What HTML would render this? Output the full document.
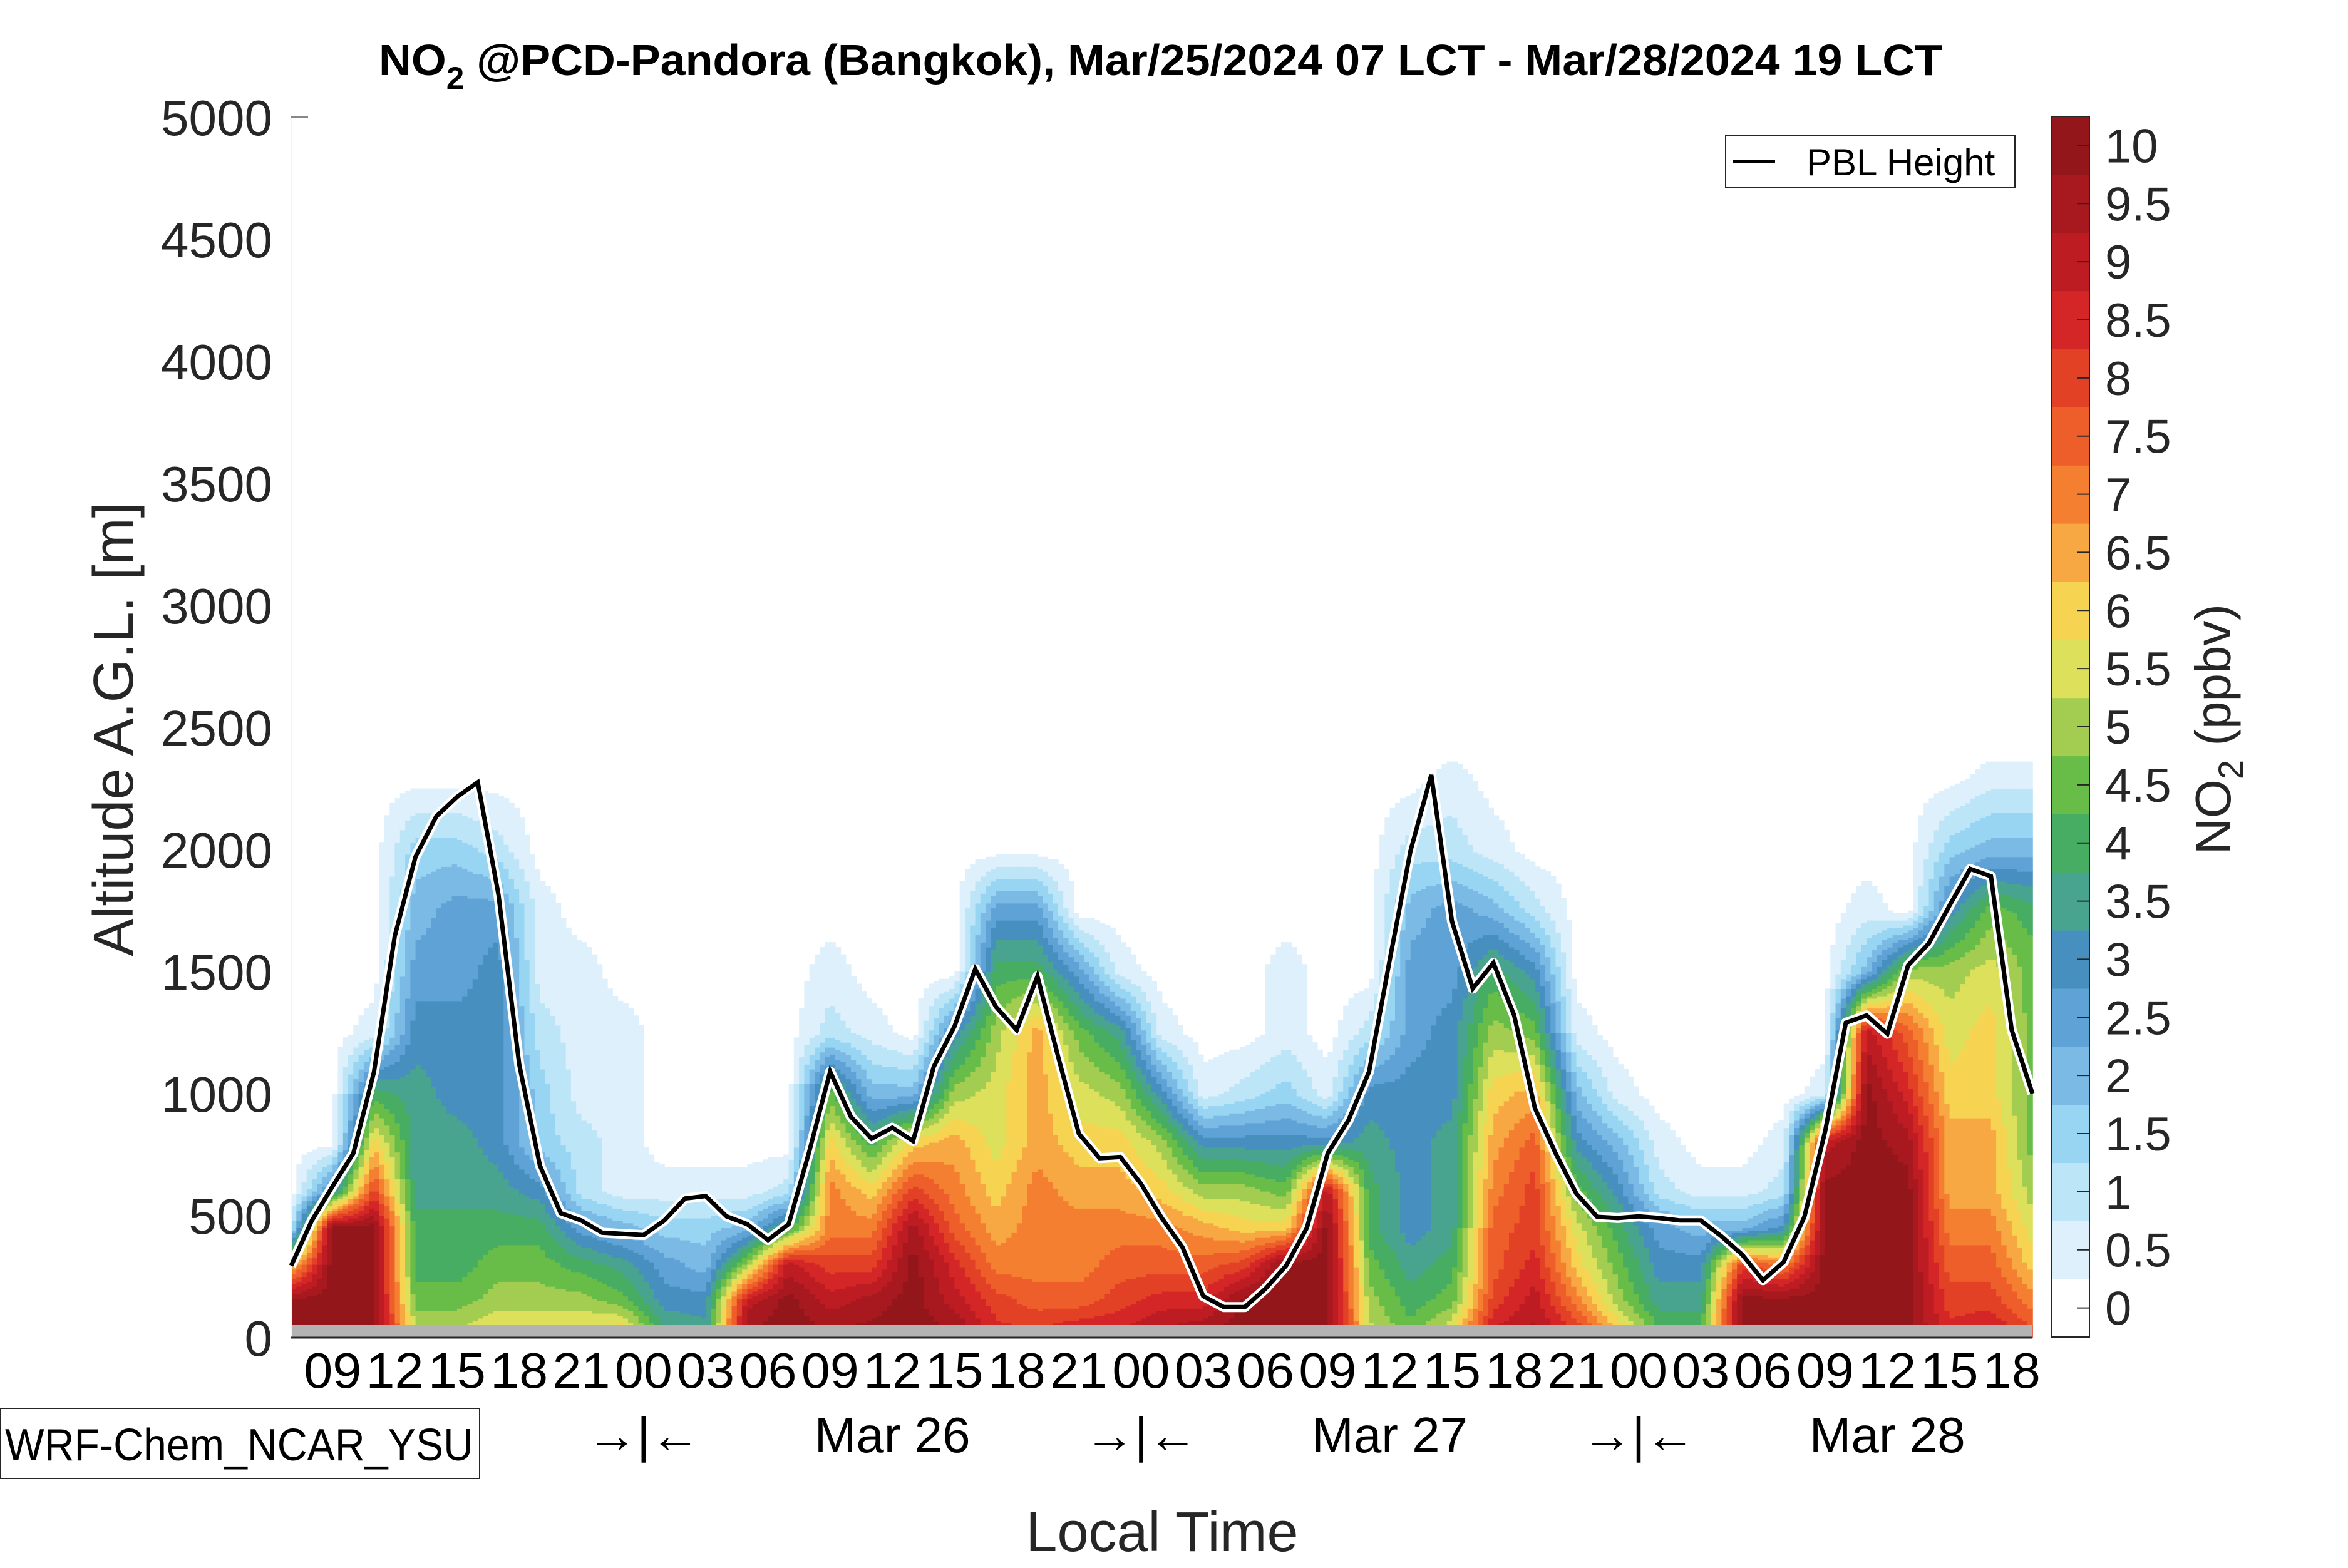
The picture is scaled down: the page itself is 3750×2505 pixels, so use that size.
<!DOCTYPE html>
<html><head><meta charset="utf-8"><style>
html,body{margin:0;padding:0;background:#fff;}
svg text{font-family:"Liberation Sans",sans-serif;}
</style></head><body>
<svg id="chart" xmlns="http://www.w3.org/2000/svg" width="3750" height="2500" viewBox="0 0 3750 2500">
<rect width="3750" height="2500" fill="#fff"/>
<text x="605" y="120" font-size="70" font-weight="bold" fill="#000" textLength="2497" lengthAdjust="spacingAndGlyphs">NO<tspan dy="22" font-size="50">2</tspan><tspan dy="-22"> @PCD-Pandora (Bangkok), Mar/25/2024 07 LCT - Mar/28/2024 19 LCT</tspan></text>
<g id="field"></g>
<rect x="465" y="2117" width="2781" height="20" fill="#b3b3b3"/>
<line x1="465" y1="186" x2="465" y2="2137" stroke="#f4f4f4" stroke-width="2"/>
<line x1="465" y1="2137" x2="3246" y2="2137" stroke="#262626" stroke-width="3"/>
<line x1="465" y1="187" x2="492" y2="187" stroke="#888" stroke-width="2"/>
<g id="yticks"></g>
<g id="xticks"></g>
<g id="pbl"></g>
<text transform="translate(212,1165) rotate(-90)" text-anchor="middle" font-size="90" fill="#262626">Altitude A.G.L. [m]</text>
<text x="1856" y="2478" text-anchor="middle" font-size="90" fill="#262626">Local Time</text>
<g>
<rect x="2756" y="216" width="462" height="84" fill="#fff" stroke="#262626" stroke-width="2"/>
<line x1="2768" y1="258" x2="2835" y2="258" stroke="#000" stroke-width="6"/>
<text x="2885" y="280" font-size="60" fill="#000">PBL Height</text>
</g>
<g>
<rect x="0" y="2250" width="766" height="112" fill="#fff" stroke="#262626" stroke-width="2"/>
<text x="8" y="2333" font-size="72" fill="#000" textLength="748" lengthAdjust="spacingAndGlyphs">WRF-Chem_NCAR_YSU</text>
</g>
<g id="cbar"></g>
<text transform="translate(3562,1165) rotate(-90)" text-anchor="middle" font-size="80" fill="#262626">NO<tspan dy="20" font-size="56">2</tspan><tspan dy="-20"> (ppbv)</tspan></text>
</svg>
<script>
const NS="http://www.w3.org/2000/svg";
// ---- data ----
const colors=["#ffffff","#ddf0fb","#bde5f8","#98d5f3","#7bbae5","#5ea2d6","#478fbf","#48a38f","#47ad62","#68bd48","#a3cd50","#dde05a","#f7d352","#f7a843","#f47f30","#ee5e2a","#e24126","#d52627","#bd1c23","#a8191f","#92161a"];
const cbarLabels=["0","0.5","1","1.5","2","2.5","3","3.5","4","4.5","5","5.5","6","6.5","7","7.5","8","8.5","9","9.5","10"];
const yTickValues=[0,500,1000,1500,2000,2500,3000,3500,4000,4500,5000];
const xTickLabels=["09","12","15","18","21","00","03","06","09","12","15","18","21","00","03","06","09","12","15","18","21","00","03","06","09","12","15","18"];
const dateLabels=["→|←","Mar 26","→|←","Mar 27","→|←","Mar 28"];
const dateHours=[17,29,41,53,65,77];
const levels=[0,150,300,450,600,800,1000,1250,1500,1750,2000,2300];
const hours=[0,2,4,6,8,10,12,14,16,18,20,22,24,26,28,30,32,34,36,38,40,42,44,46,48,50,52,54,56,58,60,62,64,66,68,70,72,74,76,78,80,82,84];
const no2=[
[10,10,6,1,0,0,0,0,0,0,0,0],
[10,10,10,10,3,0,0,0,0,0,0,0],
[10,10,10,10,8,6,4,0.5,0,0,0,0],
[5.5,4.5,4,4,3.5,3.5,3.5,3,2.5,2,1.5,0],
[5.5,4.5,4,4,3.5,3.5,3,3,2.5,2.5,1.5,0],
[6,5,4.5,4,3.5,3,3,3,3,2.5,1,0],
[6,5,4.5,4,3,1.5,1.5,1,0.5,0.5,0,0],
[6,5,4,2.5,1,1,0.5,0.5,0.5,0,0,0],
[6.5,4.5,3.5,2,0.5,0.5,0.5,0.5,0,0,0,0],
[4,3,2.5,1.5,0.5,0,0,0,0,0,0,0],
[3.5,3,2,1.5,0.5,0,0,0,0,0,0,0],
[10,9,5,2,0.5,0,0,0,0,0,0,0],
[10,10,9,4,1,0,0,0,0,0,0,0],
[10,9,8,7,7,6,4.5,1,0.5,0,0,0],
[10,9.5,8,7,6,4,2,0.5,0,0,0,0],
[10,10,10,9.5,8,6,2,0,0,0,0,0],
[10,9,8.5,7.5,7,6.5,5,3,0,0,0,0],
[8.5,8,7,6.5,6,5.5,5.5,5,4,2.5,0,0],
[8.5,7.5,7,7,7,6.5,6.5,6.5,4,2.5,0,0],
[9,7.5,7,7,6.5,6,5.5,4.5,2.5,0,0,0],
[9,8,7.5,7,6.5,6,5,3.5,0.5,0,0,0],
[9.5,8.5,7.5,7,6,5,3,0.5,0,0,0,0],
[10,8.5,7.5,6.5,5,3,0.5,0,0,0,0,0],
[10,10,8,6,5,3,1,0,0,0,0,0],
[10,10,10,6,4.5,3,1.5,0.5,0.5,0,0,0],
[10,10,10,10,9,3,0.5,0,0,0,0,0],
[5.5,5,4.5,4,4,3.5,3,1,0,0,0,0],
[4.5,4,3.5,3,3,3,3,2.5,2.5,2,1,0],
[6,4.5,4,3.5,3.5,3.5,3,3,2.5,2.5,1,0.5],
[9,8,7.5,7.5,7,6.5,6,5,4,2,0.5,0],
[9.5,9,8.5,8,8,7.5,6.5,4.5,3,1,0,0],
[8.5,7,6,5.5,4.5,3,2,0.5,0,0,0,0],
[6.5,5,4.5,4,3,2,0.5,0,0,0,0,0],
[4.5,3.5,3,2.5,1,0.5,0,0,0,0,0,0],
[4.5,3.5,3,2,0.5,0,0,0,0,0,0,0],
[10,10,8,2,0.5,0,0,0,0,0,0,0],
[10,10,7,3,1,0.5,0,0,0,0,0,0],
[10,10,10,10,10,9,0.5,0,0,0,0,0],
[10,10,10,10,10,10,10,9,2,0.5,0,0],
[10,10,10,10,10,9.5,8.5,7.5,5,0,0,0],
[8.5,8,7.5,7,6.5,6.5,6,5.5,5,3,1.5,0],
[9,8,7.5,7,6.5,6.5,6,6,5.5,4.5,2,0.5],
[8,7,6,5.5,5,4.5,4.5,4.5,4.5,4,2,0.5]
];
const pblHeight=[295,480,620,755,1090,1645,1970,2135,2215,2275,1815,1120,705,510,480,430,425,420,480,570,580,497,465,400,465,765,1090,905,815,860,805,1110,1275,1510,1355,1260,1480,1150,835,735,740,630,490,370,170,125,125,200,295,450,755,890,1090,1550,1995,2305,1705,1430,1535,1320,940,755,590,495,490,497,490,480,480,415,340,235,310,495,845,1290,1320,1245,1525,1615,1770,1920,1890,1260,1000];
// ---- axes ----
const X0=465,X1=3246,H=84,Y0=2137,YPM=0.39;
const xs=h=>X0+h*(X1-X0)/H;
const ys=z=>Y0-z*YPM;
function colProfile(j,z){
  const p=no2[j];
  if(z>=levels[levels.length-1]) return p[p.length-1]*Math.max(0,1-(z-2300)/120);
  let k=0; while(levels[k+1]<z) k++;
  const t=(z-levels[k])/(levels[k+1]-levels[k]);
  return p[k]+(p[k+1]-p[k])*t;
}
function val(h,z){
  let j=0; while(j<hours.length-2 && hours[j+1]<h) j++;
  const t=(h-hours[j])/(hours[j+1]-hours[j]);
  return colProfile(j,z)*(1-t)+colProfile(j+1,z)*t;
}
const field=document.getElementById('field');
const dh=0.25,dz=10,zTop=2650;
for(let h=0;h<H-1e-9;h+=dh){
  const xa=xs(h),xb=xs(Math.min(H,h+dh));
  let runStart=null,runBin=-1;
  const flush=(zEnd)=>{
    if(runBin>0){
      const r=document.createElementNS(NS,'rect');
      
      
      r.setAttribute('x',xa.toFixed(1));
      r.setAttribute('width',(xb-xa+0.8).toFixed(1));
      r.setAttribute('y',ys(zEnd).toFixed(1));
      r.setAttribute('height',((zEnd-runStart)*YPM+0.6).toFixed(1));
      r.setAttribute('fill',colors[runBin]);
      field.appendChild(r);
    }
  };
  for(let z=0;z<zTop;z+=dz){
    const v=val(h+dh/2,z+dz/2);
    let b=Math.round(v*2); b=Math.max(0,Math.min(20,b));
    if(b!==runBin){ flush(z); runStart=z; runBin=b; }
  }
  flush(zTop);
}
// y ticks
const yt=document.getElementById('yticks');
yTickValues.forEach(v=>{
  const t=document.createElementNS(NS,'text');
  
  
  t.setAttribute('x',435);t.setAttribute('y',ys(v)+29);
  t.setAttribute('text-anchor','end');t.setAttribute('font-size','80');t.setAttribute('fill','#262626');
  t.textContent=v; yt.appendChild(t);
});
// x ticks
const xt=document.getElementById('xticks');
xTickLabels.forEach((lab,i)=>{
  const t=document.createElementNS(NS,'text');
  
  
  t.setAttribute('x',xs(2+3*i));t.setAttribute('y',2217);
  t.setAttribute('text-anchor','middle');t.setAttribute('font-size','80');t.setAttribute('fill','#000');
  t.setAttribute('textLength','92');t.setAttribute('lengthAdjust','spacingAndGlyphs');
  t.textContent=lab; xt.appendChild(t);
});
dateLabels.forEach((lab,i)=>{
  const t=document.createElementNS(NS,'text');
  
  
  t.setAttribute('x',xs(dateHours[i]));t.setAttribute('y',2320);
  t.setAttribute('text-anchor','middle');t.setAttribute('font-size','80');t.setAttribute('fill','#000');
  t.textContent=lab; xt.appendChild(t);
});
// PBL line
const pts=pblHeight.map((z,i)=>xs(i).toFixed(1)+','+ys(z).toFixed(1)).join(' ');
const pg=document.getElementById('pbl');
const halo=document.createElementNS(NS,'polyline');


halo.setAttribute('points',pts);halo.setAttribute('fill','none');halo.setAttribute('stroke','#fff');halo.setAttribute('stroke-width','16');halo.setAttribute('stroke-linejoin','round');
pg.appendChild(halo);
const ln=document.createElementNS(NS,'polyline');


ln.setAttribute('points',pts);ln.setAttribute('fill','none');ln.setAttribute('stroke','#000');ln.setAttribute('stroke-width','7');ln.setAttribute('stroke-linejoin','miter');
pg.appendChild(ln);
// colorbar
const cb=document.getElementById('cbar');
const CB0=186,CB1=2136,CX=3277,CW=60,bh=(CB1-CB0)/colors.length;
colors.forEach((c,i)=>{
  const yTop=CB1-(i+1)*bh;
  const r=document.createElementNS(NS,'rect');
  
  
  r.setAttribute('x',CX);r.setAttribute('y',yTop.toFixed(1));r.setAttribute('width',CW);r.setAttribute('height',(bh+0.6).toFixed(1));r.setAttribute('fill',c);
  cb.appendChild(r);
  const tk=document.createElementNS(NS,'line');
  
  
  tk.setAttribute('x1',CX+CW-20);tk.setAttribute('x2',CX+CW);tk.setAttribute('y1',yTop+bh/2);tk.setAttribute('y2',yTop+bh/2);tk.setAttribute('stroke','#262626');tk.setAttribute('stroke-width','2');
  cb.appendChild(tk);
  const t=document.createElementNS(NS,'text');
  
  
  t.setAttribute('x',3362);t.setAttribute('y',(yTop+bh/2+27).toFixed(1));t.setAttribute('font-size','76');t.setAttribute('fill','#262626');
  t.textContent=cbarLabels[i]; cb.appendChild(t);
});
const fr=document.createElementNS(NS,'rect');


fr.setAttribute('x',CX);fr.setAttribute('y',CB0);fr.setAttribute('width',CW);fr.setAttribute('height',CB1-CB0);fr.setAttribute('fill','none');fr.setAttribute('stroke','#262626');fr.setAttribute('stroke-width','2');
cb.appendChild(fr);
</script>
</body></html>
